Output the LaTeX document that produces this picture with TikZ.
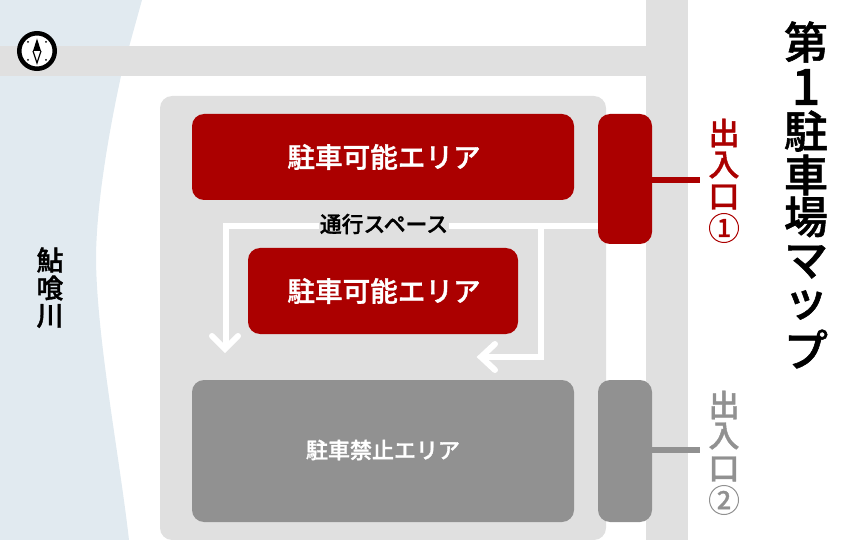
\documentclass[tikz,border=0pt]{standalone}
\usepackage{fontspec}
\setmainfont{Noto Sans CJK JP}[BoldFont={Noto Sans CJK JP Medium},BoldFeatures={FakeBold=1.2}]
\definecolor{riverc}{HTML}{E1EAF0}
\definecolor{roadc}{HTML}{E0E0E0}
\definecolor{redc}{HTML}{AB0000}
\definecolor{grayc}{HTML}{919191}
\tikzset{
 x=1pt,y=-1pt,
 area/.style={draw=none,rounded corners=12pt},
 lbl/.style={inner sep=0,anchor=center},
 title/.style={lbl,font=\fontsize{44}{44}\selectfont\bfseries,text=black},
 ent/.style={lbl,font=\fontsize{31}{31}\selectfont\bfseries},
 river/.style={lbl,font=\fontsize{27}{27}\selectfont\bfseries},
 arealbl/.style={lbl,text=white,font=\fontsize{27.6}{27.6}\selectfont\bfseries},
 flow/.style={draw=white,line width=6pt},
 head/.style={draw=white,line width=6pt,line cap=round,line join=miter},
}
\begin{document}
\begin{tikzpicture}
\useasboundingbox (0,0) rectangle (860,540);
\fill[riverc] (0,0) -- (142,0) -- (121,76) .. controls (105,150) and (96,215) .. (96,260) .. controls (97,340) and (120,460) .. (129,540) -- (0,540) -- cycle;
\fill[roadc] (0,46) rectangle (646,76);
\fill[roadc] (646,0) rectangle (688,540);
\fill[roadc,rounded corners=12pt] (160,540) -- (160,96) -- (606,96) -- (606,540) -- cycle;
% areas
\fill[redc,area] (192,114) rectangle (574,200);
\node[arealbl] (t1) at (384,157) {駐車可能エリア};
\fill[redc,area] (248,248) rectangle (518,334);
\node[arealbl] (t2) at (384,291) {駐車可能エリア};
\fill[grayc,area] (192,380) rectangle (574,522);
\node[lbl,text=white,font=\fontsize{22}{22}\selectfont\bfseries] (t3) at (383,450) {駐車禁止エリア};
% flows
\coordinate (fs) at (598,226);
\coordinate (fj) at (541,226);
\coordinate (fc) at (226,226);
\coordinate (fe1) at (226,349);
\coordinate (fc2) at (541,357);
\coordinate (fe2) at (481,357);
\draw[flow] (fs) -- (fc) -- (fe1);
\draw[flow] (fj) -- (fc2) -- (fe2);
\draw[head] (212,336) -- (225,349) -- (238,336);
\draw[head] (495,344) -- (481,357) -- (495,370);
\node[lbl,fill=roadc,inner xsep=1pt,inner ysep=0pt,font=\fontsize{21.8}{21.8}\selectfont\bfseries] (pass) at (384,224) {通行スペース};
% entrances
\node[fill=redc,rounded corners=12pt,minimum width=54pt,minimum height=130pt,inner sep=0] (e1) at (625,179) {};
\node[fill=grayc,rounded corners=12pt,minimum width=54pt,minimum height=142pt,inner sep=0] (e2) at (625,451) {};
\coordinate (c1) at (700,180);
\coordinate (c2) at (700,450);
\draw[redc,line width=6pt] (e1.east |- c1) -- (c1);
\draw[grayc,line width=6pt] (e2.east |- c2) -- (c2);
\foreach \t/\y/\n in {出/133/a,入/165/b,口/197/c}{\node[ent,text=redc] (r\n) at (724,\y) {\t};}
\node[circle,draw=redc,line width=1pt,minimum size=29pt,inner sep=0,text=redc,font=\fontsize{25}{25}\selectfont\bfseries] (r1) at (724,228) {1};
\foreach \t/\y/\n in {出/405/a,入/436/b,口/469/c}{\node[ent,text=grayc] (g\n) at (724,\y) {\t};}
\node[circle,draw=grayc,line width=1pt,minimum size=29pt,inner sep=0,text=grayc,font=\fontsize{25}{25}\selectfont\bfseries] (g1) at (724,500) {2};
% title
\foreach \t/\y/\n in {第/42/a,駐/131/c,車/175/d,場/217/e,マ/262/f,ッ/305/g,プ/349/h}{\node[title] (ti\n) at (806,\y) {\t};}
\node[lbl,font=\fontsize{50}{50}\selectfont\bfseries] (tib) at (806,87) {1};
% river name
\foreach \t/\y/\n in {鮎/260/a,喰/288/b,川/316/c}{\node[river] (ri\n) at (50,\y) {\t};}
% compass
\node[circle,fill=white,draw=black,line width=4.5pt,minimum size=35.5pt,inner sep=0] (comp) at (37,51) {};
\fill[black] (37,38.5) -- (41,51) -- (33,51) -- cycle;
\draw[black,line width=1.2pt,line join=miter] (33,51) -- (37,63) -- (41,51);
\foreach \p/\q in {28/42,46/42,28/60,46/60}{\fill[black] (\p,\q) circle (1pt);}
\end{tikzpicture}
\end{document}
